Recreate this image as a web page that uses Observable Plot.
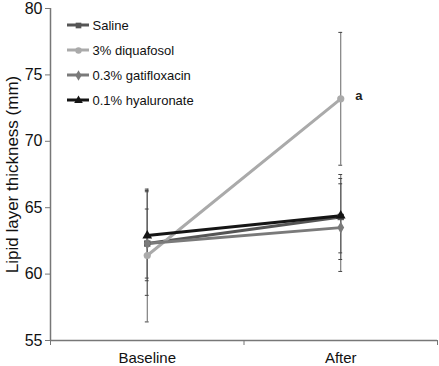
<!DOCTYPE html>
<html><head><meta charset="utf-8">
<script src="https://cdn.jsdelivr.net/npm/d3@7"></script>
<script src="https://cdn.jsdelivr.net/npm/@observablehq/plot@0.6"></script>
<style>body{margin:0;background:#fff;font-family:"Liberation Sans",Arial,sans-serif}</style>
</head><body><div id="chart"></div>
<script>
const timepoints = ["Baseline", "After"];
const seriesNames = ["Saline", "3% diquafosol", "0.3% gatifloxacin", "0.1% hyaluronate"];
const means = {
  "Saline": [62.3, 64.3],
  "3% diquafosol": [61.4, 73.2],
  "0.3% gatifloxacin": [62.3, 63.5],
  "0.1% hyaluronate": [62.9, 64.4]
};
const sds = {
  "Saline": [2.6, 3.2],
  "3% diquafosol": [5.0, 5.0],
  "0.3% gatifloxacin": [3.9, 3.3],
  "0.1% hyaluronate": [3.4, 2.8]
};
const colors = ["#555555", "#aaaaaa", "#7a7a7a", "#151515"];
const symbols = ["square", "circle", "diamond", "triangle"];
const yTicks = [55, 60, 65, 70, 75, 80];
const annotation = {series: "3% diquafosol", time: "After", label: "a"};

const rows = [];
seriesNames.forEach((s, si) => timepoints.forEach((t, ti) => {
  rows.push({series: s, time: t, xi: ti + 0.5, y: means[s][ti], sd: sds[s][ti], si});
}));
const color = d3.scaleOrdinal(seriesNames, colors);
const sym = d3.scaleOrdinal(seriesNames, symbols);
const capW = 0.01;

const marks = [
  Plot.ruleX(rows, {x: "xi", y1: d => d.y - d.sd, y2: d => d.y + d.sd, stroke: "#666", strokeWidth: 1}),
  Plot.ruleY(rows, {y: d => d.y - d.sd, x1: d => d.xi - capW, x2: d => d.xi + capW, stroke: "#444", strokeWidth: 1}),
  Plot.ruleY(rows, {y: d => d.y + d.sd, x1: d => d.xi - capW, x2: d => d.xi + capW, stroke: "#444", strokeWidth: 1}),
  Plot.line(rows, {x: "xi", y: "y", z: "series", stroke: d => color(d.series), strokeWidth: 3}),
  Plot.dot(rows, {x: "xi", y: "y", symbol: d => sym(d.series), fill: d => color(d.series), r: 3.6}),
  Plot.text(rows.filter(d => d.series === annotation.series && d.time === annotation.time),
    {x: "xi", y: "y", text: () => annotation.label, dx: 18, dy: -3, fontWeight: "bold", fontSize: 13, fill: "#222"}),
  Plot.ruleY([55], {stroke: "#777", strokeWidth: 1.5}),
  Plot.ruleX([0], {stroke: "#777", strokeWidth: 1.5}),
  Plot.axisY(yTicks, {tickSize: 5, tickPadding: 3, stroke: "#777", fontSize: 16, fill: "#111", label: null}),
  Plot.axisX([0, 1, 2], {tickSize: 5, stroke: "#777", tickFormat: () => "", label: null}),
  Plot.text(timepoints, {x: (d, i) => i + 0.5, y: 55, text: d => d, dy: 18, fontSize: 15, fill: "#111", lineAnchor: "middle"})
];
const legendMarks = [];
seriesNames.forEach((s, i) => {
  const dy = 17 + i * 25;
  legendMarks.push(Plot.text([s], {frameAnchor: "top-left", dx: 42, dy, text: d => d, fontSize: 13, fill: "#111", textAnchor: "start", lineAnchor: "middle"}));
  legendMarks.push(Plot.dot([s], {frameAnchor: "top-left", dx: 28, dy, symbol: sym(s), fill: color(s), r: 3.2}));
});

const plot = Plot.plot({
  width: 439, height: 366,
  marginLeft: 50, marginRight: 2, marginTop: 8, marginBottom: 26,
  x: {type: "linear", domain: [0, 2], axis: null},
  y: {domain: [55, 80], axis: null},
  style: {fontFamily: "Liberation Sans, Arial, sans-serif", background: "white"},
  marks: [
    ...marks,
    ...legendMarks,
    Plot.text(["Lipid layer thickness (mm)"], {frameAnchor: "left", dx: -38, rotate: -90, textAnchor: "middle", fontSize: 17, fill: "#111", text: d => d})
  ]
});
document.getElementById("chart").appendChild(plot);

// legend line segments next to the legend markers
const svg = d3.select(plot);
seriesNames.forEach((s, i) => {
  svg.append("line").attr("x1", 50 + 17).attr("x2", 50 + 39)
    .attr("y1", 8 + 17 + i * 25).attr("y2", 8 + 17 + i * 25)
    .attr("stroke", color(s)).attr("stroke-width", 3).lower();
});
</script></body></html>
